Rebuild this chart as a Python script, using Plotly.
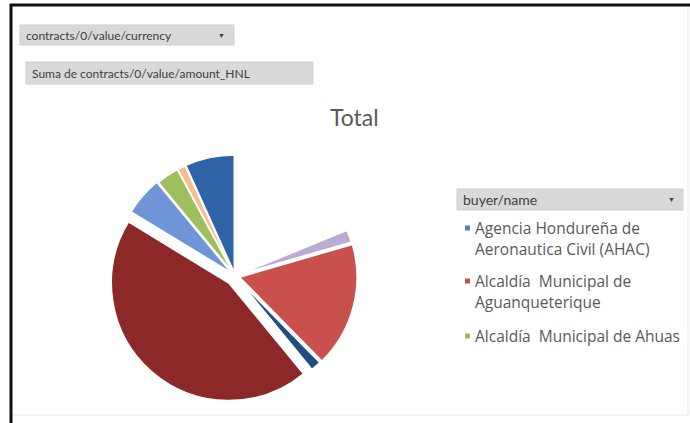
import plotly.graph_objects as go

W, H = 690, 423

# Slice data (clockwise from 12 o'clock)
slice_labels = [
    "(sin nombre)",
    "Alcaldía Municipal de Ajuterique",
    "Alcaldía  Municipal de Aguanqueterique",
    "Alcaldía Municipal de Alauca",
    "Alcaldía Municipal de Amapala",
    "Alcaldía Municipal de Apacilagua",
    "Alcaldía  Municipal de Ahuas",
    "Alcaldía Municipal de Arada",
    "Agencia Hondureña de Aeronautica Civil (AHAC)",
]
slice_values = [67, 6, 61, 5, 159, 19, 11, 4, 24]
slice_colors = ["#FFFFFF", "#B9ABD1", "#C9504D", "#1F4E85", "#8C2828",
                "#6F95D8", "#9DBF5C", "#F6BE8C", "#2F63A8"]
slice_pull = [0.0, 0.03, 0.04, 0.03, 0.08, 0.04, 0.03, 0.03, 0.03]

legend_labels = [
    ["Agencia Hondureña de", "Aeronautica Civil (AHAC)"],
    ["Alcaldía  Municipal de", "Aguanqueterique"],
    ["Alcaldía  Municipal de Ahuas"],
]
legend_colors = ["#4F81BD", "#C0504D", "#9BBB59"]

FONT = "Lato"
TXT = "#595959"

def px(x):
    return x / W

def py(y):
    return 1 - y / H

# pie geometry
cx, cy, r = 235, 276, 117.5
maxpull = max(slice_pull)
half = r * (1 + maxpull)

fig = go.Figure()
fig.add_trace(go.Pie(
    labels=slice_labels,
    values=slice_values,
    sort=False,
    direction="clockwise",
    rotation=0,
    pull=slice_pull,
    marker=dict(colors=slice_colors, line=dict(color="#FFFFFF", width=1.5)),
    textinfo="none",
    hoverinfo="label+percent",
    showlegend=False,
    domain=dict(x=[px(cx - half), px(cx + half)], y=[py(cy + half), py(cy - half)]),
))

shapes = []
annotations = []

# frame
shapes.append(dict(type="line", xref="paper", yref="paper", x0=px(10), x1=px(690), y0=py(5), y1=py(5),
                   line=dict(color="#111111", width=3)))
shapes.append(dict(type="line", xref="paper", yref="paper", x0=px(11), x1=px(11), y0=py(4), y1=py(423),
                   line=dict(color="#111111", width=3)))
shapes.append(dict(type="line", xref="paper", yref="paper", x0=px(688), x1=px(688), y0=py(7), y1=py(415),
                   line=dict(color="#E6E6E6", width=1)))
shapes.append(dict(type="line", xref="paper", yref="paper", x0=px(13), x1=px(688), y0=py(415), y1=py(415),
                   line=dict(color="#E6E6E6", width=1)))

# field buttons
def button(x0, y0, x1, y1, text, size=12, arrow=False):
    shapes.append(dict(type="rect", xref="paper", yref="paper", x0=px(x0), x1=px(x1), y0=py(y1), y1=py(y0),
                       fillcolor="#D9D9D9", line=dict(color="#CFCFCF", width=1), layer="below"))
    annotations.append(dict(x=px(x0 + 4), y=py((y0 + y1) / 2), xref="paper", yref="paper", text=text,
                            showarrow=False, xanchor="left", yanchor="middle",
                            font=dict(family=FONT, size=size, color="#404040")))
    if arrow:
        annotations.append(dict(x=px(x1 - 12), y=py((y0 + y1) / 2), xref="paper", yref="paper", text="▼",
                                showarrow=False, xanchor="center", yanchor="middle",
                                font=dict(family=FONT, size=7, color="#404040")))

button(20, 25, 234, 45, "contracts/0/value/currency", arrow=True)
button(26, 62, 313, 84, "Suma de contracts/0/value/amount_HNL")
button(457, 189, 683, 210, "buyer/name", size=14, arrow=True)

# title
annotations.append(dict(x=px(355), y=py(117), xref="paper", yref="paper", text="Total", showarrow=False,
                        xanchor="center", yanchor="middle", font=dict(family=FONT, size=23, color=TXT)))

# legend
ys = [228, 281, 336]
for lines, col, y in zip(legend_labels, legend_colors, ys):
    shapes.append(dict(type="rect", xref="paper", yref="paper", x0=px(465), x1=px(470), y0=py(y + 2.5),
                       y1=py(y - 2.5), fillcolor=col, line=dict(width=0)))
    for i, ln in enumerate(lines):
        annotations.append(dict(x=px(473), y=py(y + i * 21), xref="paper", yref="paper", text=ln,
                                showarrow=False, xanchor="left", yanchor="middle",
                                font=dict(family="Open Sans", size=15.5, color=TXT)))

fig.update_layout(
    width=W, height=H,
    margin=dict(l=0, r=0, t=0, b=0),
    paper_bgcolor="#FFFFFF",
    plot_bgcolor="#FFFFFF",
    shapes=shapes,
    annotations=annotations,
    showlegend=False,
)

fig.write_html("out.html")
